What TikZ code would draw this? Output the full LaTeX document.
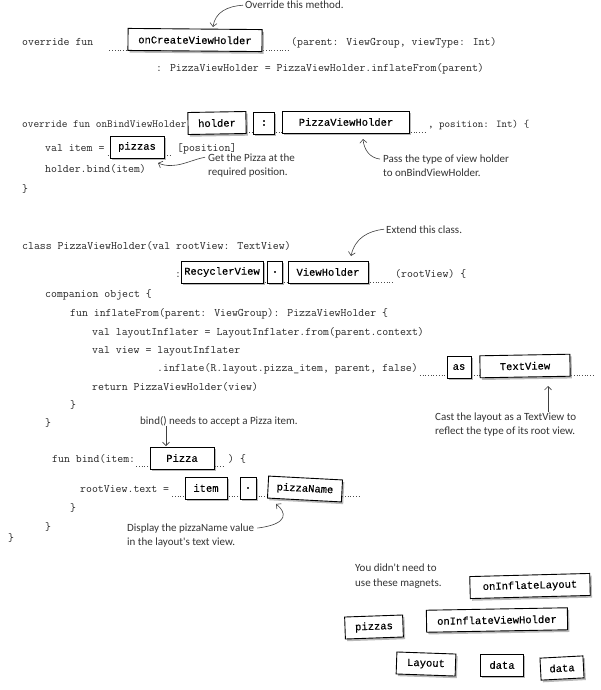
\documentclass[tikz,border=0pt]{standalone}
\usepackage{fontspec}
\newfontfamily\magfont{Liberation Mono}[FakeBold=0.35]
\newfontfamily\handfont{Carlito}
\usetikzlibrary{shadows,arrows.meta}
\begin{document}
\begin{tikzpicture}[x=1pt,y=-1pt,
  code/.style={anchor=base west, inner sep=0pt, font=\ttfamily\fontsize{#1}{14}\selectfont, text=black!85},
  code/.default=11.5,
  mag/.style={draw=black, line width=0.9pt, fill=white, inner sep=1pt, minimum height=22pt,
    font=\magfont\fontsize{10.5}{12}\selectfont, text=black,
    drop shadow={opacity=0.55, shadow xshift=1.8pt, shadow yshift=-2.2pt}},
  hand/.style={anchor=base west, inner sep=0pt, font=\handfont\fontsize{11}{13}\selectfont, text=black!80},
  harrow/.style={draw=black!75, line width=0.6pt, -{Straight Barb[length=3.5pt,width=7pt]}},
  dots/.style={draw=black!70, line width=0.7pt, dotted}]
\fill[white] (0,0) rectangle (600,690);
\useasboundingbox (0,0) rectangle (600,690);

% ---------- onCreateViewHolder ----------
\node[code] (c1) at (22,46) {override fun};
\node[code] (c2) at (291,46) {(parent: ViewGroup, viewType: Int)};
\node[code] (c3) at (156,72) {: PizzaViewHolder = PizzaViewHolder.inflateFrom(parent)};
\draw[dots] ([xshift=16pt,yshift=-4pt]c1.base east) -- ([xshift=-2pt,yshift=-4pt]c2.base west);
\node[mag, minimum width=134pt, rotate=-0.5] (m1) at (195,40) {onCreateViewHolder};
\node[hand] (t1) at (245,9) {Override this method.};
\coordinate (a1) at (213,27);
\draw[harrow] ([xshift=-2pt]t1.west) .. controls (228,6) and (215,12) .. (a1);

% ---------- onBindViewHolder ----------
\node[code=11] (c4) at (22,128) {override fun onBindViewHolder(};
\node[code=10.5] (c5) at (428,128) {, position: Int) \{};
\draw[dots] ([yshift=-4pt]c4.base east) -- ([xshift=-2pt,yshift=-4pt]c5.base west);
\node[mag, minimum width=58pt, rotate=1] (m2) at (217,123) {holder};
\node[mag, minimum width=21pt] (m3) at (264,123) {:};
\node[mag, minimum width=127pt] (m4) at (346,122) {PizzaViewHolder};

\node[code] (c6) at (45,151) {val item =};
\node[code] (c7) at (177,151) {[position]};
\draw[dots] ([xshift=3pt,yshift=-4pt]c6.base east) -- ([xshift=-6pt,yshift=-4pt]c7.base west);
\node[mag, minimum width=54pt] (m5) at (137,147) {pizzas};

\node[code] (c8) at (45,172) {holder.bind(item)};
\node[code] (c9) at (22,192) {\}};

\node[hand] (t2) at (208,161) {Get the Pizza at the};
\node[hand] (t2b) at (208,175) {required position.};
\coordinate (a2) at (158,163);
\draw[harrow] ([xshift=-3pt]t2.west) .. controls (190,160) and (175,170) .. (a2);

\node[hand] (t3) at (383,162) {Pass the type of view holder};
\node[hand] (t3b) at (383,176) {to onBindViewHolder.};
\coordinate (a3) at (363,139);
\draw[harrow] ([xshift=-3pt]t3.west) .. controls (370,158) and (364,150) .. (a3);

% ---------- class PizzaViewHolder ----------
\node[code] (c10) at (22,249) {class PizzaViewHolder(val rootView: TextView)};
\node[hand] (t4) at (386,233) {Extend this class.};
\coordinate (a4) at (351,256);
\draw[harrow] ([xshift=-2pt]t4.west) .. controls (368,231) and (355,238) .. (a4);

\node[code] (c11) at (175,277) {:};
\node[code] (c12) at (395,277) {(rootView) \{};
\draw[dots] ([yshift=-5pt]c11.base east) -- ([xshift=-3pt,yshift=-5pt]c12.base west);
\node[mag, minimum width=82pt] (m6) at (222,272) {RecyclerView};
\node[mag, minimum width=15pt] (m7) at (275,272) {.};
\node[mag, minimum width=80pt] (m8) at (328,272) {ViewHolder};

\node[code] (c13) at (45,297) {companion object \{};
\node[code] (c14) at (70,316) {fun inflateFrom(parent: ViewGroup): PizzaViewHolder \{};
\node[code] (c15) at (92,335) {val layoutInflater = LayoutInflater.from(parent.context)};
\node[code] (c16) at (92,353) {val view = layoutInflater};
\node[code] (c17) at (157,371) {.inflate(R.layout.pizza\_item, parent, false)};
\coordinate (e17) at (595,375);
\draw[dots] ([xshift=2pt,yshift=-4pt]c17.base east) -- (e17);
\node[mag, minimum width=24pt] (m9) at (459,367) {as};
\node[mag, minimum width=90pt, rotate=1] (m10) at (525,366) {TextView};
\node[code] (c18) at (92,390) {return PizzaViewHolder(view)};
\node[code] (c19) at (70,408) {\}};
\node[code] (c20) at (45,426) {\}};

\node[hand] (t5) at (435,420) {Cast the layout as a TextView to};
\node[hand] (t5b) at (435,434) {reflect the type of its root view.};
\coordinate (a5) at (548,386);
\draw[harrow] (t5.north -| a5) -- (a5);

\node[hand] (t6) at (140,424) {bind() needs to accept a Pizza item.};
\coordinate (a6) at (166,446);
\draw[harrow] (t6.south -| a6) -- (a6);

\node[code] (c21) at (52,462) {fun bind(item:};
\node[code] (c22) at (228,462) {) \{};
\draw[dots] ([xshift=1pt,yshift=-4pt]c21.base east) -- ([xshift=-4pt,yshift=-4pt]c22.base west);
\node[mag, minimum width=64pt] (m11) at (182,458) {Pizza};

\node[code] (c23) at (80,492) {rootView.text =};
\coordinate (e23) at (360,496);
\draw[dots] ([xshift=3pt,yshift=-4pt]c23.base east) -- (e23);
\node[mag, minimum width=42pt] (m12) at (206,488) {item};
\node[mag, minimum width=16pt] (m13) at (248,488) {.};
\node[mag, minimum width=74pt, rotate=-3] (m14) at (305,489) {pizzaName};
\node[code] (c24) at (70,511) {\}};
\node[code] (c25) at (45,530) {\}};
\node[code] (c26) at (8,541) {\}};

\node[hand] (t7) at (127,531) {Display the pizzaName value};
\node[hand] (t7b) at (127,545) {in the layout's text view.};
\coordinate (a7) at (276,504);
\draw[harrow] ([xshift=3pt]t7.east) .. controls (290,524) and (286,512) .. (a7);

% ---------- unused magnets ----------
\node[hand] (t8) at (355,571) {You didn't need to};
\node[hand] (t8b) at (355,586) {use these magnets.};
\node[mag, minimum width=120pt, rotate=1.5] (u1) at (530,586) {onInflateLayout};
\node[mag, minimum width=58pt, rotate=2] (u2) at (374,627) {pizzas};
\node[mag, minimum width=141pt, rotate=1] (u3) at (497,620) {onInflateViewHolder};
\node[mag, minimum width=59pt, rotate=-2] (u4) at (426,664) {Layout};
\node[mag, minimum width=43pt] (u5) at (502,665) {data};
\node[mag, minimum width=43pt, rotate=3] (u6) at (562,668) {data};
\end{tikzpicture}
\end{document}
